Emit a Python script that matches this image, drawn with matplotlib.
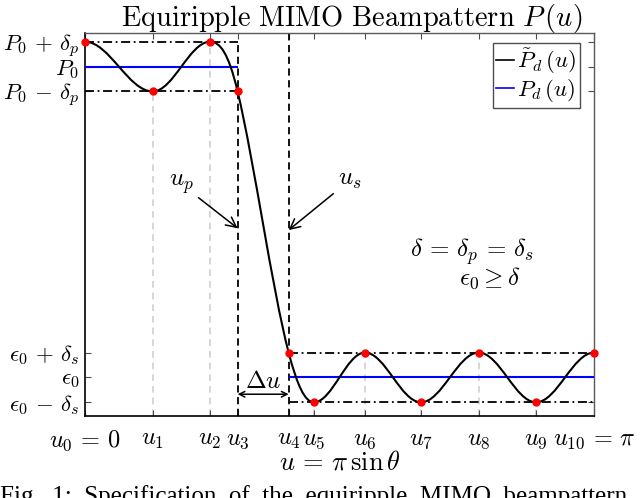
import numpy as np
import matplotlib
matplotlib.use("Agg")
from matplotlib import pyplot as plt
from matplotlib.path import Path
from matplotlib.patches import PathPatch
from matplotlib.lines import Line2D

plt.rcParams["mathtext.fontset"] = "cm"
plt.rcParams["font.family"] = "serif"
plt.rcParams["font.serif"] = ["cmr10", "DejaVu Serif"]
plt.rcParams["axes.formatter.use_mathtext"] = True

# ripple levels
P0 = 1.1
eps0 = 0.1
delta = 0.08

# extremal frequencies u_0 ... u_10 and the beampattern value there
u_ext = [0.0, 0.418, 0.772, 0.942, 1.257, 1.413, 1.728, 2.074, 2.430, 2.784, np.pi]
p_ext = [P0 + delta, P0 - delta, P0 + delta, P0 - delta,
         eps0 + delta, eps0 - delta, eps0 + delta, eps0 - delta,
         eps0 + delta, eps0 - delta, eps0 + delta]
# slope of the curve at each extremal point (zero at the ripple peaks)
slope_ext = [0, 0, 0, -2.2, -2.0, 0, 0, 0, 0, 0, 0]

x_labels = [r"$u_0\,=\,0$", r"$u_1$", r"$u_2$", r"$u_3$", r"$u_4$", r"$u_5$",
            r"$u_6$", r"$u_7$", r"$u_8$", r"$u_9$", r"$u_{10}\,=\,\pi$"]
y_ticks = [eps0 - delta, eps0, eps0 + delta, P0 - delta, P0, P0 + delta]
y_labels = [r"$\epsilon_0\,-\,\delta_s$", r"$\epsilon_0$", r"$\epsilon_0\,+\,\delta_s$",
            r"$P_0\,-\,\delta_p$", r"$P_0$", r"$P_0\,+\,\delta_p$"]

y_lim = (-0.024, 1.208)

fig = plt.figure(figsize=(6.4, 4.98), dpi=100)
ax = fig.add_axes([0.1328, 0.1647, 0.7953, 0.769])
ax.set_xlim(0, np.pi)
ax.set_ylim(*y_lim)

u3, u4 = u_ext[3], u_ext[4]

# light grey guides from the axis up to the ripple extrema
inner = [1, 2, 5, 6, 7, 8, 9]
ax.vlines([u_ext[i] for i in inner], y_lim[0], [p_ext[i] for i in inner],
          colors="#cfcfcf", linestyles=(0, (4, 3)), lw=1.2, zorder=1)

# band edges
ax.vlines(u3, y_lim[0], P0 + delta, colors="k", linestyles=(0, (4, 2.5)), lw=1.3, zorder=2)
ax.vlines(u4, y_lim[0], y_lim[1], colors="k", linestyles=(0, (4, 2.5)), lw=1.3, zorder=2)

# tolerance bands
dashdot = (0, (5, 2, 1, 2))
ax.hlines([P0 - delta, P0 + delta], 0, u3, colors="k", linestyles=dashdot, lw=1.3, zorder=2)
ax.hlines([eps0 - delta, eps0 + delta], u4, np.pi, colors="k", linestyles=dashdot, lw=1.3, zorder=2)

# desired pattern
ax.hlines(P0, 0, u3, colors="blue", lw=1.5, zorder=3)
ax.hlines(eps0, u4, np.pi, colors="blue", lw=1.5, zorder=3)

# equiripple pattern as a smooth bezier chain through the extrema
verts = [(u_ext[0], p_ext[0])]
codes = [Path.MOVETO]
for i in range(len(u_ext) - 1):
    x0, y0, m0 = u_ext[i], p_ext[i], slope_ext[i]
    x1, y1, m1 = u_ext[i + 1], p_ext[i + 1], slope_ext[i + 1]
    dx = x1 - x0
    h0 = 0.36 * dx if m0 == 0 else dx / 3
    h1 = 0.36 * dx if m1 == 0 else dx / 3
    verts += [(x0 + h0, y0 + m0 * h0), (x1 - h1, y1 - m1 * h1), (x1, y1)]
    codes += [Path.CURVE4] * 3
ax.add_patch(PathPatch(Path(verts, codes), fill=False, edgecolor="k", lw=1.5,
                       zorder=4, clip_on=False))

ax.plot(u_ext, p_ext, "o", color="red", ms=5, zorder=5, clip_on=False)

# annotations
arrow = dict(arrowstyle="->", color="k", lw=1.1, shrinkA=2, shrinkB=0)
ax.annotate(r"$u_p$", xy=(u3, 0.58), xytext=(0.593, 0.722), fontsize=18,
            ha="center", va="center", arrowprops=arrow)
ax.annotate(r"$u_s$", xy=(u4, 0.574), xytext=(1.636, 0.735), fontsize=18,
            ha="center", va="center", arrowprops=arrow)
ax.annotate("", xy=(u3, 0.046), xytext=(u4, 0.046),
            arrowprops=dict(arrowstyle="<->", color="k", lw=1.1, shrinkA=0, shrinkB=0))
ax.text((u3 + u4) / 2, 0.085, r"$\Delta u$", fontsize=18, ha="center", va="center")
ax.text(2.389, 0.506, r"$\delta\,=\,\delta_p\,=\,\delta_s$", fontsize=18, ha="center", va="center")
ax.text(2.50, 0.418, r"$\epsilon_0\geq\delta$", fontsize=18, ha="center", va="center")

ax.set_xticks(u_ext)
ax.set_xticklabels(x_labels, fontsize=17.5)
ax.set_yticks(y_ticks)
ax.set_yticklabels(y_labels, fontsize=16.5)
ax.tick_params(direction="in", length=4, top=True, right=True, width=0.8, color="0.3")
ax.tick_params(axis="x", pad=9)
ax.tick_params(axis="y", pad=4)
for side in ["left", "bottom"]:
    ax.spines[side].set_color("k")
    ax.spines[side].set_linewidth(1.2)
for side in ["top", "right"]:
    ax.spines[side].set_color("0.35")
    ax.spines[side].set_linewidth(1.0)

ax.set_xlabel(r"$u\,=\,\pi\,\sin\theta$", fontsize=19, labelpad=-2)
ax.set_title(r"$\mathrm{Equiripple\ MIMO\ Beampattern}\ P\,(u)$", fontsize=20.5,
             x=0.524, pad=5)

handles = [Line2D([], [], color="k", lw=1.2), Line2D([], [], color="blue", lw=1.2)]
leg = ax.legend(handles, [r"$\tilde{P}_d\,(u)$", r"$P_d\,(u)$"], loc="upper right",
                bbox_to_anchor=(0.972, 0.974), fontsize=16.5, handlelength=0.8,
                handletextpad=0.1, borderpad=0.15, labelspacing=0.05,
                fancybox=False, framealpha=1, edgecolor="0.3", borderaxespad=0)
leg.get_frame().set_linewidth(1.0)

fig.text(0.0, 1 - 485 / 498, "Fig.  1:  Specification  of  the  equiripple  MIMO  beampattern",
         fontsize=18, family="Liberation Serif", va="top", ha="left")

fig.savefig("out.png", dpi=100)
